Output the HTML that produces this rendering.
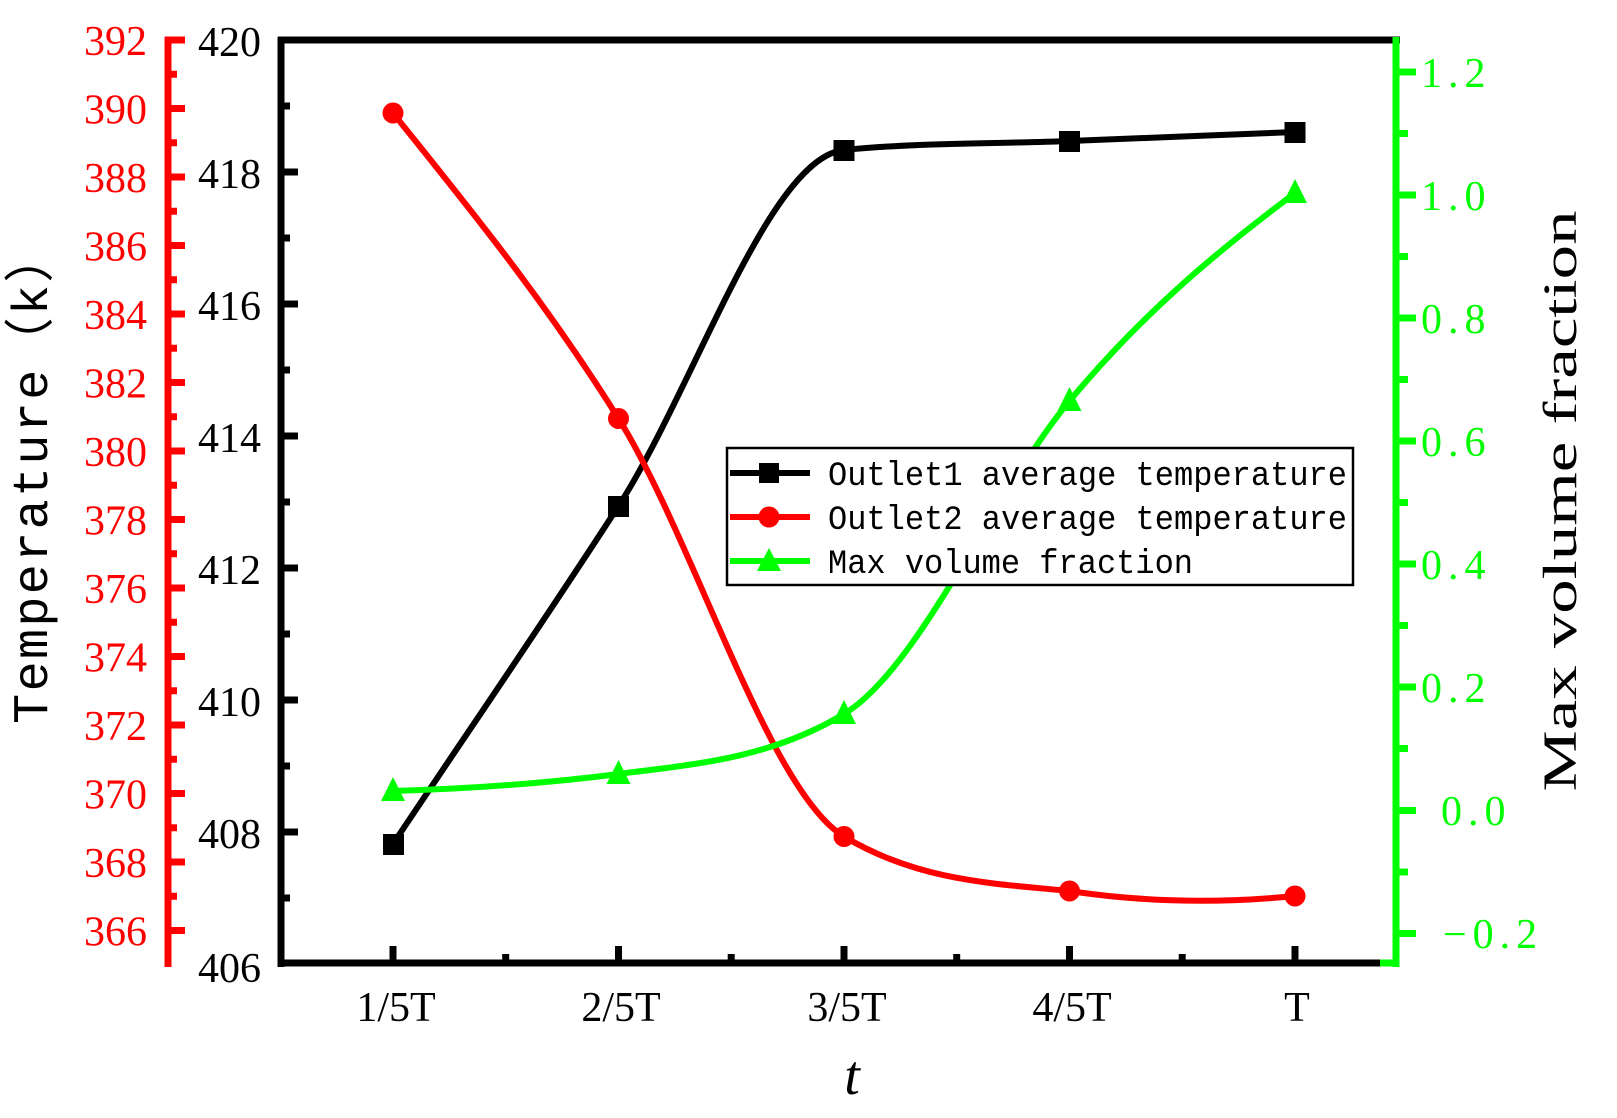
<!DOCTYPE html>
<html><head><meta charset="utf-8"><style>
html,body{margin:0;padding:0;background:#fff;}
svg{display:block;}
text{font-family:"Liberation Serif",serif;}
</style></head><body>
<svg width="1617" height="1118" viewBox="0 0 1617 1118" xmlns="http://www.w3.org/2000/svg">
<rect width="1617" height="1118" fill="#fff"/>

<!-- red axis -->
<g stroke="#ff0000" stroke-width="7" fill="none">
<line x1="168" y1="37" x2="168" y2="967"/>
<line x1="165" y1="40" x2="185" y2="40"/><line x1="165" y1="108.5" x2="185" y2="108.5"/><line x1="165" y1="177" x2="185" y2="177"/><line x1="165" y1="245.5" x2="185" y2="245.5"/><line x1="165" y1="314" x2="185" y2="314"/><line x1="165" y1="382.5" x2="185" y2="382.5"/><line x1="165" y1="451" x2="185" y2="451"/><line x1="165" y1="519.5" x2="185" y2="519.5"/><line x1="165" y1="588" x2="185" y2="588"/><line x1="165" y1="656.5" x2="185" y2="656.5"/><line x1="165" y1="725" x2="185" y2="725"/><line x1="165" y1="793.5" x2="185" y2="793.5"/><line x1="165" y1="862" x2="185" y2="862"/><line x1="165" y1="930.5" x2="185" y2="930.5"/>
<line x1="165" y1="74.25" x2="177" y2="74.25"/><line x1="165" y1="142.75" x2="177" y2="142.75"/><line x1="165" y1="211.25" x2="177" y2="211.25"/><line x1="165" y1="279.75" x2="177" y2="279.75"/><line x1="165" y1="348.25" x2="177" y2="348.25"/><line x1="165" y1="416.75" x2="177" y2="416.75"/><line x1="165" y1="485.25" x2="177" y2="485.25"/><line x1="165" y1="553.75" x2="177" y2="553.75"/><line x1="165" y1="622.25" x2="177" y2="622.25"/><line x1="165" y1="690.75" x2="177" y2="690.75"/><line x1="165" y1="759.25" x2="177" y2="759.25"/><line x1="165" y1="827.75" x2="177" y2="827.75"/><line x1="165" y1="896.25" x2="177" y2="896.25"/>
</g>
<g fill="#ff0000" font-size="42" text-anchor="end">
<text x="147" y="55">392</text><text x="147" y="123.5">390</text><text x="147" y="192">388</text><text x="147" y="260.5">386</text><text x="147" y="329">384</text><text x="147" y="397.5">382</text><text x="147" y="466">380</text><text x="147" y="534.5">378</text><text x="147" y="603">376</text><text x="147" y="671.5">374</text><text x="147" y="740">372</text><text x="147" y="808.5">370</text><text x="147" y="877">368</text><text x="147" y="945.5">366</text>
</g>

<!-- black frame & left axis -->
<g stroke="#000" stroke-width="7" fill="none">
<line x1="278" y1="40" x2="1400" y2="40"/>
<line x1="281" y1="37" x2="281" y2="967"/>
<line x1="278" y1="963" x2="1385" y2="963"/>
<line x1="281" y1="40" x2="298" y2="40"/><line x1="281" y1="172" x2="298" y2="172"/><line x1="281" y1="304" x2="298" y2="304"/><line x1="281" y1="436" x2="298" y2="436"/><line x1="281" y1="568" x2="298" y2="568"/><line x1="281" y1="700" x2="298" y2="700"/><line x1="281" y1="832" x2="298" y2="832"/>
<line x1="281" y1="106" x2="290" y2="106"/><line x1="281" y1="238" x2="290" y2="238"/><line x1="281" y1="370" x2="290" y2="370"/><line x1="281" y1="502" x2="290" y2="502"/><line x1="281" y1="634" x2="290" y2="634"/><line x1="281" y1="766" x2="290" y2="766"/><line x1="281" y1="898" x2="290" y2="898"/>
<line x1="393" y1="963" x2="393" y2="946"/><line x1="618.5" y1="963" x2="618.5" y2="946"/><line x1="844" y1="963" x2="844" y2="946"/><line x1="1069.5" y1="963" x2="1069.5" y2="946"/><line x1="1295" y1="963" x2="1295" y2="946"/>
<line x1="505.7" y1="963" x2="505.7" y2="954"/><line x1="731.2" y1="963" x2="731.2" y2="954"/><line x1="956.7" y1="963" x2="956.7" y2="954"/><line x1="1182.2" y1="963" x2="1182.2" y2="954"/>
</g>
<g fill="#000" font-size="42" text-anchor="end">
<text x="261" y="56">420</text><text x="261" y="188">418</text><text x="261" y="320">416</text><text x="261" y="452">414</text><text x="261" y="584">412</text><text x="261" y="716">410</text><text x="261" y="848">408</text><text x="261" y="982">406</text>
</g>
<g fill="#000" font-size="42" text-anchor="middle">
<text x="396" y="1021">1/5T</text><text x="621" y="1021">2/5T</text><text x="847" y="1021">3/5T</text><text x="1072" y="1021">4/5T</text><text x="1297" y="1021">T</text>
</g>
<text x="852" y="1094" font-size="56" font-style="italic" text-anchor="middle">t</text>

<!-- green axis -->
<g stroke="#00ff00" stroke-width="7" fill="none">
<line x1="1396" y1="37" x2="1396" y2="967"/>
<line x1="1380" y1="963" x2="1396" y2="963"/>
<line x1="1396" y1="72" x2="1416" y2="72"/><line x1="1396" y1="195" x2="1416" y2="195"/><line x1="1396" y1="318" x2="1416" y2="318"/><line x1="1396" y1="441" x2="1416" y2="441"/><line x1="1396" y1="564" x2="1416" y2="564"/><line x1="1396" y1="687" x2="1416" y2="687"/><line x1="1396" y1="810.5" x2="1416" y2="810.5"/><line x1="1396" y1="933.5" x2="1416" y2="933.5"/>
<line x1="1396" y1="133.5" x2="1408" y2="133.5"/><line x1="1396" y1="256.5" x2="1408" y2="256.5"/><line x1="1396" y1="379.5" x2="1408" y2="379.5"/><line x1="1396" y1="502.5" x2="1408" y2="502.5"/><line x1="1396" y1="625.5" x2="1408" y2="625.5"/><line x1="1396" y1="748.5" x2="1408" y2="748.5"/><line x1="1396" y1="872" x2="1408" y2="872"/>
</g>
<g fill="#00ff00" font-size="42" letter-spacing="6">
<text x="1421" y="87">1.2</text><text x="1421" y="210">1.0</text><text x="1421" y="333">0.8</text><text x="1421" y="456">0.6</text><text x="1421" y="579">0.4</text><text x="1421" y="702">0.2</text><text x="1441" y="825">0.0</text><text x="1443" y="948">−0.2</text>
</g>

<!-- axis titles -->
<text transform="translate(47,477) rotate(-90)" font-size="50" letter-spacing="2.4" text-anchor="middle" style="font-family:'Liberation Mono','Noto Sans CJK SC',monospace">Temperature（k）</text>
<text transform="translate(1576,501) rotate(-90)" font-size="48" text-anchor="middle" textLength="581" lengthAdjust="spacingAndGlyphs">Max volume fraction</text>

<!-- series -->
<path d="M393,844 C468.2,731.2 543.3,622.5 618.5,506 C693.7,389.5 768.8,157.5 844,150 C919.2,142.5 994.3,144 1069.5,141 C1144.7,138 1219.8,135 1295,132" fill="none" stroke="#000" stroke-width="6"/>
<g fill="#000">
<rect x="383" y="834" width="21" height="21"/><rect x="608" y="496" width="21" height="21"/><rect x="833.5" y="140" width="21" height="21"/><rect x="1059" y="131" width="21" height="21"/><rect x="1284.5" y="122" width="21" height="21"/>
</g>
<path d="M393,113 C468.2,207 543.3,298.2 618.5,418.5 C693.7,538.8 768.8,791.4 844,836.5 C919.2,881.6 994.3,883.5 1069.5,891 C1144.7,902.3 1219.8,903.5 1295,896" fill="none" stroke="#ff0000" stroke-width="6"/>
<g fill="#ff0000">
<circle cx="393" cy="113" r="10.5"/><circle cx="618.5" cy="418.5" r="10.5"/><circle cx="844" cy="836.5" r="10.5"/><circle cx="1069.5" cy="891" r="10.5"/><circle cx="1295" cy="896" r="10.5"/>
</g>
<path d="M393,791 C468.2,788.7 543.3,783.8 618.5,774 C693.7,764.2 768.8,759.1 844,714 C919.2,668.9 994.3,491.2 1069.5,401 C1144.7,310.8 1219.8,249.4 1295,193" fill="none" stroke="#00ff00" stroke-width="6"/>
<g fill="#00ff00">
<polygon points="393,777 381,801 405,801"/><polygon points="618.5,760 606.5,784 630.5,784"/><polygon points="844,700 832,724 856,724"/><polygon points="1069.5,387 1057.5,411 1081.5,411"/><polygon points="1295,179 1283,203 1307,203"/>
</g>

<!-- legend -->
<rect x="727" y="448" width="626" height="137" fill="#fff" stroke="#000" stroke-width="2.5"/>
<line x1="730" y1="473" x2="810" y2="473" stroke="#000" stroke-width="6"/>
<rect x="759" y="463" width="20" height="20" fill="#000"/>
<line x1="730" y1="517" x2="810" y2="517" stroke="#ff0000" stroke-width="6"/>
<circle cx="769" cy="517" r="10.5" fill="#ff0000"/>
<line x1="730" y1="561" x2="810" y2="561" stroke="#00ff00" stroke-width="6"/>
<polygon points="769,548 757,571 781,571" fill="#00ff00"/>
<g font-size="34" fill="#000">
<text x="828" y="485" textLength="519" lengthAdjust="spacingAndGlyphs" style="font-family:'Liberation Mono',monospace">Outlet1 average temperature</text>
<text x="828" y="529" textLength="519" lengthAdjust="spacingAndGlyphs" style="font-family:'Liberation Mono',monospace">Outlet2 average temperature</text>
<text x="828" y="573" textLength="365" lengthAdjust="spacingAndGlyphs" style="font-family:'Liberation Mono',monospace">Max volume fraction</text>
</g>
</svg>
</body></html>
